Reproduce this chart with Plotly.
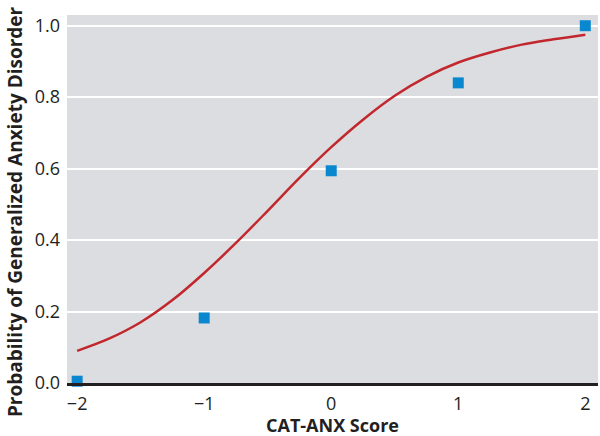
import plotly.graph_objects as go

# observed proportions
score = [-2, -1, 0, 1, 2]
observed = [0.005, 0.182, 0.594, 0.84, 1.0]

# fitted curve
curve_x = [-2, -1.75, -1.5, -1.25, -1, -0.75, -0.5, -0.25, 0,
           0.25, 0.5, 0.75, 1, 1.25, 1.5, 1.75, 2]
curve_y = [0.09, 0.124, 0.17, 0.232, 0.308, 0.392, 0.482, 0.574, 0.66,
           0.737, 0.804, 0.857, 0.897, 0.925, 0.947, 0.962, 0.975]

x_ticks = [-2, -1, 0, 1, 2]
y_ticks = [0, 0.2, 0.4, 0.6, 0.8, 1.0]

fig = go.Figure()
fig.add_trace(go.Scatter(x=curve_x, y=curve_y, mode='lines', line_shape='spline',
                         line=dict(color='#c1272d', width=2.5), hoverinfo='skip'))
fig.add_trace(go.Scatter(x=score, y=observed, mode='markers', cliponaxis=False,
                         marker=dict(symbol='square', size=11, color='#0a88cf')))

fig.update_layout(
    width=600, height=436,
    showlegend=False,
    paper_bgcolor='white',
    plot_bgcolor='#dcdde0',
    margin=dict(l=67, r=2, t=15, b=53),
    font=dict(family='Open Sans, sans-serif', size=18, color='#231f20'),
    xaxis=dict(range=[-2.08, 2.1], tickvals=x_ticks, showgrid=False, zeroline=False,
               showline=True, linecolor='#231f20', linewidth=3, automargin=False,
               ticklabelstandoff=2),
    yaxis=dict(range=[0, 1.03], tickvals=y_ticks, tickformat='.1f', showgrid=True,
               gridcolor='white', gridwidth=2, zeroline=False, automargin=False,
               ticklabelstandoff=6),
)

fig.add_annotation(text='<b>CAT-ANX Score</b>', xref='paper', yref='paper',
                   x=0.5, y=-0.114, yanchor='middle', showarrow=False,
                   font=dict(size=18))
fig.add_annotation(text='<b>Probability of Generalized Anxiety Disorder</b>',
                   xref='paper', yref='paper', x=-0.098, y=0.467, textangle=-90,
                   xanchor='center', yanchor='middle', showarrow=False,
                   font=dict(size=19))

fig.write_html("out.html", config={'displayModeBar': False},
               post_script="document.body.style.margin='0';")
